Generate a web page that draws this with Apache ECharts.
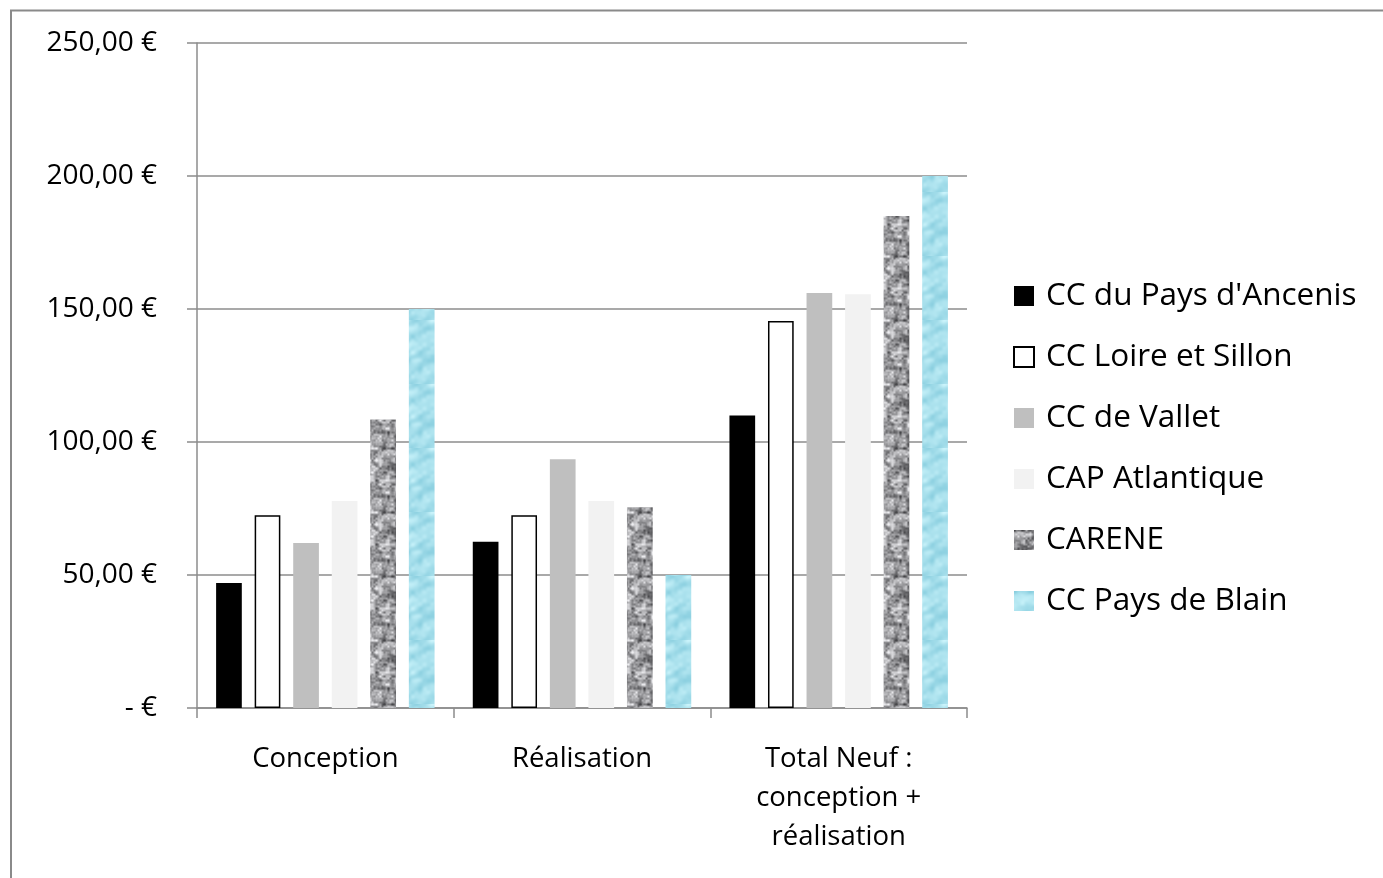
<!DOCTYPE html>
<html>
<head>
<meta charset="utf-8">
<script src="https://cdn.jsdelivr.net/npm/echarts@6/dist/echarts.min.js"></script>
<style>
html,body{margin:0;padding:0;background:#fff;}
#main{width:1383px;height:878px;}
</style>
</head>
<body>
<div id="main"></div>
<script>
const categories = ['Conception', 'Réalisation', 'Total Neuf :\nconception +\nréalisation'];
const seriesNames = ['CC du Pays d\'Ancenis', 'CC Loire et Sillon', 'CC de Vallet', 'CAP Atlantique', 'CARENE', 'CC Pays de Blain'];
const ancenis = [47, 62.5, 110];
const loireSillon = [72.5, 72.5, 145.5];
const vallet = [62, 93.5, 156];
const capAtlantique = [77.8, 77.8, 155.5];
const carene = [108.5, 75.5, 185];
const blain = [150, 50, 200];
const yTicks = [0, 50, 100, 150, 200, 250];

// deterministic periodic value-noise texture (decorative fill only)
function hash(ix, iy, p) {
  ix = ((ix % p) + p) % p; iy = ((iy % p) + p) % p;
  let h = ix * 374761393 + iy * 668265263;
  h = (h ^ (h >>> 13)) * 1274126177;
  h = h ^ (h >>> 16);
  return (h >>> 0) / 4294967295;
}
function vnoise(x, y, cell, p) {
  const fx = x / cell, fy = y / cell;
  const x0 = Math.floor(fx), y0 = Math.floor(fy);
  const tx = fx - x0, ty = fy - y0;
  const sx = tx * tx * (3 - 2 * tx), sy = ty * ty * (3 - 2 * ty);
  const a = hash(x0, y0, p), b = hash(x0 + 1, y0, p), c = hash(x0, y0 + 1, p), d = hash(x0 + 1, y0 + 1, p);
  return (a * (1 - sx) + b * sx) * (1 - sy) + (c * (1 - sx) + d * sx) * sy;
}
function makeTexture(kind) {
  const c = document.createElement('canvas');
  const w = 64, h = 64;
  c.width = w; c.height = h;
  const ctx = c.getContext('2d');
  const img = ctx.createImageData(w, h);
  for (let y = 0; y < h; y++) {
    for (let x = 0; x < w; x++) {
      const i = (y * w + x) * 4;
      if (kind === 'granite') {
        let v = vnoise(x, y, 4, 16) * 0.6 + vnoise(x, y, 2, 32) * 0.4;
        let g = 60 + v * 190;
        g = Math.max(70, Math.min(238, g));
        img.data[i] = g; img.data[i + 1] = g; img.data[i + 2] = g + 3; img.data[i + 3] = 255;
      } else {
        let v = vnoise(x + y * 0.6, y, 8, 8) * 0.7 + vnoise(x, y, 4, 16) * 0.3;
        let r = 135 + v * 70, gg = 205 + v * 40, b = 222 + v * 30;
        img.data[i] = Math.min(255, r); img.data[i + 1] = Math.min(255, gg); img.data[i + 2] = Math.min(255, b); img.data[i + 3] = 255;
      }
    }
  }
  ctx.putImageData(img, 0, 0);
  return c;
}
const graniteFill = { image: makeTexture('granite'), repeat: 'repeat' };
const waterFill = { image: makeTexture('water'), repeat: 'repeat' };

const seriesData = [ancenis, loireSillon, vallet, capAtlantique, carene, blain];
const styles = [
  { color: '#000000' },
  { color: '#ffffff', borderColor: '#000000', borderWidth: 1.5 },
  { color: '#bfbfbf' },
  { color: '#f2f2f2' },
  { color: graniteFill },
  { color: waterFill }
];

const chart = echarts.init(document.getElementById('main'), null, { renderer: 'canvas' });
const FONT = '"Open Sans", sans-serif';
chart.setOption({
  animation: false,
  backgroundColor: '#ffffff',
  graphic: [{
    type: 'rect', shape: { x: 11, y: 10.5, width: 1400, height: 900 },
    style: { fill: 'none', stroke: '#8a8a8a', lineWidth: 2 }, silent: true
  }],
  grid: { left: 197, right: 416, top: 43, bottom: 170, containLabel: false },
  legend: {
    orient: 'vertical', left: 1013, top: 280, padding: 0,
    itemWidth: 20, itemHeight: 20, itemGap: 29,
    icon: 'rect',
    textStyle: { fontFamily: FONT, fontSize: 31.5, color: '#000', lineHeight: 32, padding: [0, 0, 0, 7] },
    data: seriesNames
  },
  xAxis: {
    type: 'category', data: categories,
    axisLine: { lineStyle: { color: '#8c8c8c', width: 1.5 } },
    axisTick: { show: true, length: 10, alignWithLabel: false, lineStyle: { color: '#8c8c8c', width: 1.5 } },
    axisLabel: { fontFamily: FONT, fontSize: 27.5, color: '#000', margin: 32, lineHeight: 39, interval: 0 }
  },
  yAxis: {
    type: 'value', min: yTicks[0], max: yTicks[yTicks.length - 1], interval: 50,
    axisLine: { show: true, lineStyle: { color: '#8c8c8c', width: 1.5 } },
    axisTick: { show: true, length: 10, lineStyle: { color: '#8c8c8c', width: 1.5 } },
    splitLine: { show: true, lineStyle: { color: '#8c8c8c', width: 1.5 } },
    axisLabel: {
      fontFamily: FONT, fontSize: 28, color: '#000', margin: 40,
      formatter: function (v) { return v === 0 ? '- €' : v.toFixed(2).replace('.', ',') + ' €'; }
    }
  },
  series: seriesNames.map((name, k) => ({
    name: name, type: 'bar', data: seriesData[k],
    barWidth: 25.7, barGap: '50%',
    itemStyle: styles[k]
  }))
});
</script>
</body>
</html>
